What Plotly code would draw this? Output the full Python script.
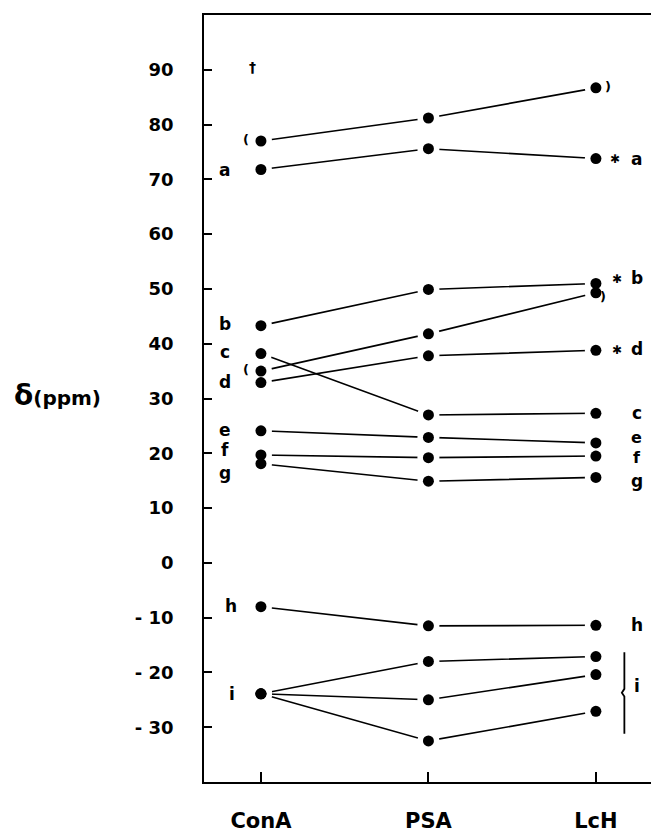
import plotly.graph_objects as go

# ---- data ----
categories = ["ConA", "PSA", "LcH"]
series_names = ["paren1", "a", "b", "paren2", "c", "d", "e", "f", "g", "h", "i1", "i2", "i3"]
conA = [77.0, 71.8, 43.3, 35.0, 38.2, 32.9, 24.1, 19.7, 18.1, -8.0, -23.9, -23.9, -23.9]
psa = [81.2, 75.6, 49.9, 41.8, 27.0, 37.8, 22.9, 19.2, 14.9, -11.5, -18.0, -25.0, -32.5]
lch = [86.7, 73.8, 51.0, 49.3, 27.3, 38.8, 21.9, 19.5, 15.6, -11.4, -17.1, -20.4, -27.1]
ytick_vals = [-30, -20, -10, 0, 10, 20, 30, 40, 50, 60, 70, 80, 90]
ytick_text = ["- 30", "- 20", "- 10", "0", "10", "20", "30", "40", "50", "60", "70", "80", "90"]

xpos = list(range(len(categories)))
FONT = "DejaVu Sans"

fig = go.Figure()

# connecting lines
for i, name in enumerate(series_names):
    fig.add_trace(go.Scatter(
        x=xpos, y=[conA[i], psa[i], lch[i]], mode="lines",
        line=dict(color="black", width=1.6), showlegend=False, hoverinfo="skip"))

allx = [xx for _ in series_names for xx in xpos]
ally = [v for i in range(len(series_names)) for v in (conA[i], psa[i], lch[i])]

# white halos to leave gaps between lines and dots
fig.add_trace(go.Scatter(x=allx, y=ally, mode="markers",
                         marker=dict(color="white", size=22, line=dict(width=0)),
                         showlegend=False, hoverinfo="skip"))
# black dots
fig.add_trace(go.Scatter(x=allx, y=ally, mode="markers",
                         marker=dict(color="black", size=11, line=dict(width=0)),
                         showlegend=False))

annots = []
def lab(text, x, y, size=17, xanchor="center"):
    annots.append(dict(text=f"<b>{text}</b>", x=x, y=y, xref="x", yref="y",
                       showarrow=False, xanchor=xanchor, yanchor="middle",
                       font=dict(family=FONT, size=size, color="black")))

# left labels (ConA)
L = -0.215
lab("a", L, 71.8)
lab("b", L, 43.6)
lab("c", L, 38.4)
lab("d", L, 33.0)
lab("e", L, 24.3)
lab("f", L, 20.6)
lab("g", L, 16.4)
lab("h", -0.18, -7.8)
lab("i", -0.17, -23.9)
lab("(", -0.09, 77.3, size=13)
lab("(", -0.09, 35.3, size=13)
lab("†", -0.05, 90.6, size=14)

# right labels (LcH)
R = 2.245
lab(")", 2.07, 87.0, size=13)
lab(")", 2.04, 48.6, size=13)
lab("✱", 2.115, 73.8, size=12)
lab("a", R, 73.8)
lab("✱", 2.125, 51.8, size=12)
lab("b", R, 52.0)
lab("✱", 2.125, 38.9, size=12)
lab("d", R, 39.0)
lab("c", R, 27.4)
lab("e", R, 22.9, size=16)
lab("f", R, 19.3, size=16)
lab("g", R, 15.0)
lab("h", R, -11.4)
lab("i", R, -22.5)

# y axis title
annots.append(dict(text="<b><span style='font-size:28px'>δ</span>(ppm)</b>",
                   x=-0.43, y=30.5, xref="paper", yref="y", showarrow=False,
                   xanchor="left", yanchor="middle",
                   font=dict(family=FONT, size=20, color="black")))

fig.update_layout(
    width=651, height=833,
    margin=dict(l=204, r=0, t=15, b=47),
    paper_bgcolor="white", plot_bgcolor="white",
    annotations=annots,
    shapes=[dict(type="path", xref="x", yref="y",
                 path="M 2.17,-16.3 L 2.17,-23.0 L 2.155,-23.7 L 2.17,-24.4 L 2.17,-31.2",
                 line=dict(color="black", width=1.8))],
    xaxis=dict(range=[-0.34, 2.329], tickvals=xpos, ticktext=categories,
               ticks="inside", ticklen=10, tickwidth=1.5, tickcolor="black",
               showline=True, linecolor="black", linewidth=1.6, mirror=True,
               showgrid=False, zeroline=False, ticklabelstandoff=19,
               tickfont=dict(family=FONT, size=21, color="black", weight="bold")),
    yaxis=dict(range=[-40, 100], tickvals=ytick_vals, ticktext=ytick_text,
               ticks="inside", ticklen=8, tickwidth=1.5, tickcolor="black",
               showline=True, linecolor="black", linewidth=1.6,
               showgrid=False, zeroline=False, ticklabelstandoff=25,
               tickfont=dict(family=FONT, size=18, color="black", weight="bold")),
)

fig.write_html("out.html", config={"displayModeBar": False},
               post_script="document.body.style.margin='0';document.body.style.overflow='hidden';")
